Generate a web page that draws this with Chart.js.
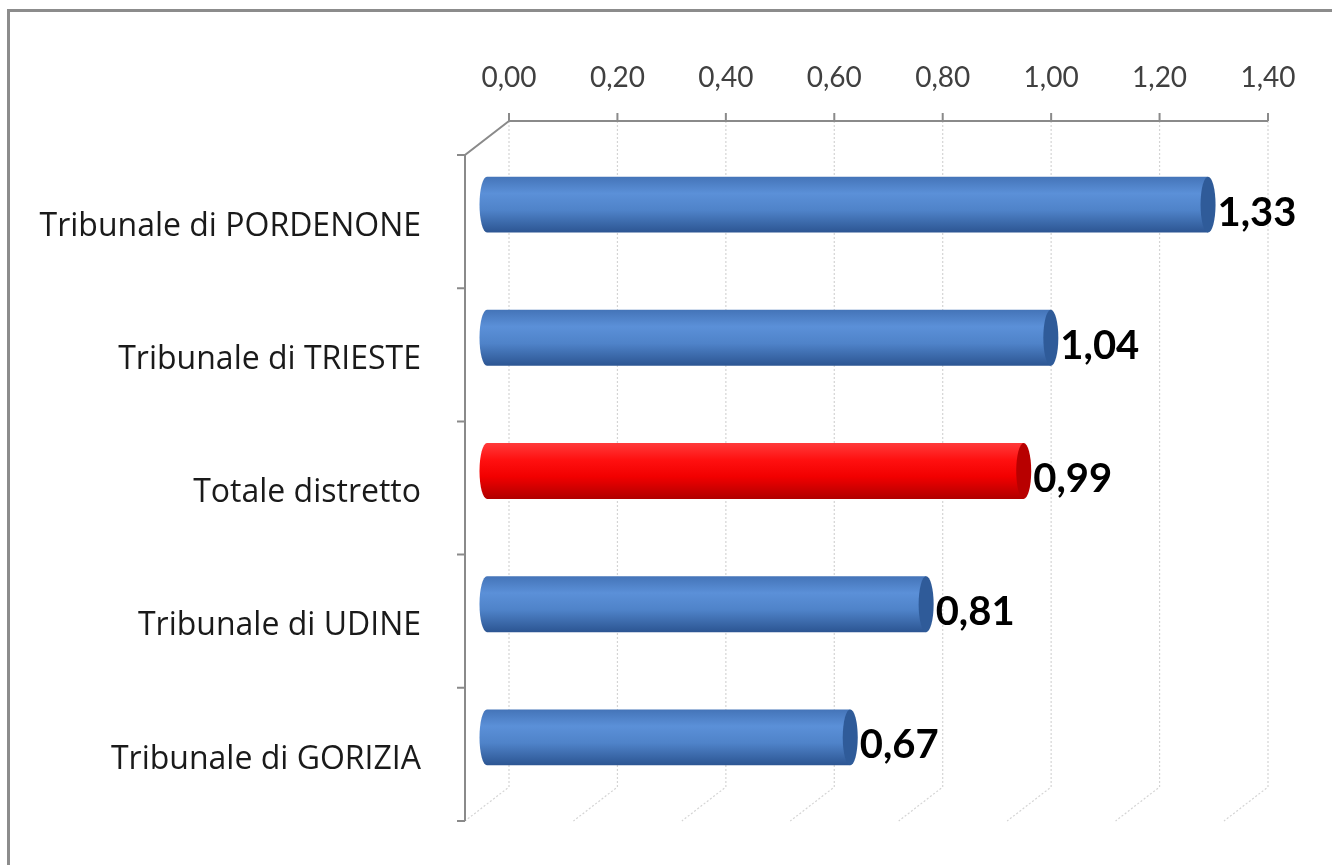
<!DOCTYPE html>
<html>
<head>
<meta charset="utf-8">
<script src="https://cdn.jsdelivr.net/npm/chart.js@4.4.1/dist/chart.umd.min.js"></script>
<style>
  html, body { margin: 0; padding: 0; background: #fff; }
  #wrap { position: relative; width: 1332px; height: 865px; overflow: hidden; }
  #frame { position: absolute; left: 7px; top: 9px; width: 1400px; height: 900px;
           border-top: 3px solid #8c8c8c; border-left: 3px solid #8c8c8c; }
  canvas { position: absolute; left: 0; top: 0; }
</style>
</head>
<body>
<div id="wrap">
  <div id="frame"></div>
  <canvas id="barChart" width="1332" height="865"></canvas>
</div>
<script>
const categories = [
  "Tribunale di PORDENONE",
  "Tribunale di TRIESTE",
  "Totale distretto",
  "Tribunale di UDINE",
  "Tribunale di GORIZIA"
];
const values = [1.33, 1.04, 0.99, 0.81, 0.67];
const barKinds = ["blue", "blue", "red", "blue", "blue"];
const axisMin = 0;
const axisMax = 1.4;
const axisStep = 0.2;

// depth of the fake 3D box: bars sit halfway
const depthX = 44, depthY = 34;

const palettes = {
  blue: { top: "#4474b8", light: "#5b90d8", mid: "#4f83c9", bottom: "#2c5592", cap: "#2f5b99" },
  red:  { top: "#ff3a3a", light: "#ff1010", mid: "#f20000", bottom: "#b00000", cap: "#b80000" }
};

function fmt(v) {
  return v.toFixed(2).replace(".", ",");
}

function barHalf(chart) {
  const y = chart.scales.y;
  return (y.getPixelForValue(1) - y.getPixelForValue(0)) * 0.42 / 2;
}

function bodyGradient(ctx) {
  const chart = ctx.chart;
  if (!chart.chartArea || !chart.scales.y) return palettes[barKinds[ctx.dataIndex]].mid;
  const cy = chart.scales.y.getPixelForValue(ctx.dataIndex);
  const h = barHalf(chart);
  const p = palettes[barKinds[ctx.dataIndex]];
  const g = chart.ctx.createLinearGradient(0, cy - h, 0, cy + h);
  g.addColorStop(0, p.top);
  g.addColorStop(0.3, p.light);
  g.addColorStop(0.6, p.mid);
  g.addColorStop(1, p.bottom);
  return g;
}

const box3d = {
  id: "box3d",
  beforeDatasetsDraw(chart) {
    const { ctx, chartArea: { top, bottom }, scales: { x, y } } = chart;
    const bx = depthX / 2, by = depthY / 2;
    const ticks = [];
    for (let v = axisMin; v <= axisMax + 1e-9; v += axisStep) ticks.push(v);

    ctx.save();
    // back wall + floor gridlines
    ctx.strokeStyle = "#d4d4d4";
    ctx.lineWidth = 1.2;
    ctx.setLineDash([2, 2]);
    ticks.forEach(v => {
      const px = x.getPixelForValue(v) + bx;
      ctx.beginPath();
      ctx.moveTo(px, top - by);
      ctx.lineTo(px, bottom - by);
      ctx.lineTo(px - depthX, bottom + by);
      ctx.stroke();
    });
    ctx.setLineDash([]);

    // top axis line at back with ticks
    ctx.strokeStyle = "#8a8a8a";
    ctx.lineWidth = 2;
    const x0 = x.getPixelForValue(axisMin) + bx;
    const x1 = x.getPixelForValue(axisMax) + bx;
    ctx.beginPath();
    ctx.moveTo(x0, top - by);
    ctx.lineTo(x1, top - by);
    ticks.forEach(v => {
      const px = x.getPixelForValue(v) + bx;
      ctx.moveTo(px, top - by);
      ctx.lineTo(px, top - by - 8);
    });
    // diagonal to front and front vertical axis
    ctx.moveTo(x0, top - by);
    ctx.lineTo(x0 - depthX, top + by);
    ctx.lineTo(x0 - depthX, bottom + by);
    ctx.stroke();

    // category ticks on front axis
    ctx.beginPath();
    const step = y.getPixelForValue(1) - y.getPixelForValue(0);
    for (let i = 0; i <= categories.length; i++) {
      const py = y.getPixelForValue(0) - step / 2 + i * step + by;
      ctx.moveTo(x0 - depthX, py);
      ctx.lineTo(x0 - depthX - 8, py);
    }
    ctx.stroke();
    ctx.restore();
  },
  afterDatasetsDraw(chart) {
    const { ctx } = chart;
    const meta = chart.getDatasetMeta(0);
    const h = barHalf(chart);
    const rx = 7.5;
    ctx.save();
    meta.data.forEach((bar, i) => {
      const p = palettes[barKinds[i]];
      const g = ctx.createLinearGradient(0, bar.y - h, 0, bar.y + h);
      g.addColorStop(0, p.top);
      g.addColorStop(0.3, p.light);
      g.addColorStop(0.6, p.mid);
      g.addColorStop(1, p.bottom);
      // rounded start of the cylinder
      ctx.beginPath();
      ctx.ellipse(bar.base, bar.y, rx, h, 0, Math.PI / 2, Math.PI * 1.5);
      ctx.closePath();
      ctx.fillStyle = g;
      ctx.fill();
      // end face
      ctx.beginPath();
      ctx.ellipse(bar.x, bar.y, rx, h, 0, 0, Math.PI * 2);
      ctx.fillStyle = p.cap;
      ctx.fill();

      ctx.font = "bold 40px Lato";
      ctx.fillStyle = "#000";
      ctx.textAlign = "left";
      ctx.textBaseline = "middle";
      ctx.fillText(fmt(values[i]), bar.x + rx + 2, bar.y + 8);
    });
    ctx.restore();
  }
};

new Chart(document.getElementById("barChart").getContext("2d"), {
  type: "bar",
  data: {
    labels: categories,
    datasets: [{
      data: values,
      backgroundColor: bodyGradient,
      borderWidth: 0,
      categoryPercentage: 1,
      barPercentage: 0.42
    }]
  },
  options: {
    indexAxis: "y",
    responsive: false,
    animation: false,
    layout: { padding: { top: 0, left: 0, right: 86, bottom: 61 } },
    plugins: { legend: { display: false }, tooltip: { enabled: false } },
    scales: {
      x: {
        position: "top",
        min: axisMin,
        max: axisMax,
        grid: { display: false },
        border: { display: false },
        ticks: {
          stepSize: axisStep,
          padding: 35,
          labelOffset: depthX / 2,
          color: "#404040",
          font: { family: "Lato", size: 28 },
          callback: v => fmt(v)
        },
        afterFit(scale) { scale.height = 138; }
      },
      y: {
        // invisible grid; tick length only pushes labels away from the box
        grid: { display: true, color: "transparent", drawOnChartArea: false, drawTicks: true, tickLength: 60 },
        border: { display: false },
        ticks: {
          padding: 6,
          labelOffset: 22,
          color: "#1a1a1a",
          font: { family: "Open Sans", size: 32 }
        },
        afterFit(scale) { scale.width = 487; }
      }
    }
  },
  plugins: [box3d]
});
</script>
</body>
</html>
